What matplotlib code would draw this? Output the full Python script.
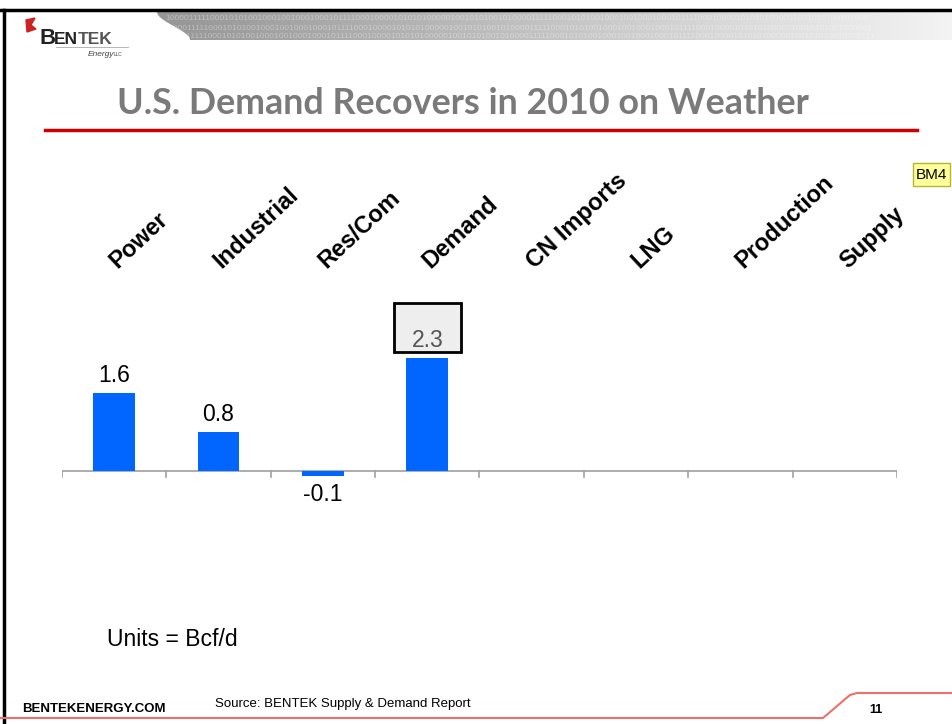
import numpy as np
import matplotlib.pyplot as plt
from matplotlib.patches import Polygon, Rectangle

# data
categories = ['Power', 'Industrial', 'Res/Com', 'Demand', 'CN Imports', 'LNG', 'Production', 'Supply']
values = [1.6, 0.8, -0.1, 2.3, None, None, None, None]
value_labels = ['1.6', '0.8', '-0.1', '2.3', '', '', '', '']

W, H = 953, 724
fig = plt.figure(figsize=(W / 100, H / 100), dpi=100)
plt.rcParams['font.family'] = ['Liberation Sans', 'DejaVu Sans']

# slide background layer in pixel coords
bg = fig.add_axes([0, 0, 1, 1])
bg.set_xlim(0, W)
bg.set_ylim(H, 0)
bg.axis('off')

# header band: gradient, curved left edge
grad = np.linspace(0.58, 0.95, 256)[None, :]
img = bg.imshow(np.repeat(grad, 2, axis=0), cmap='gray', vmin=0, vmax=1,
                extent=(150, W, 40, 12), aspect='auto', zorder=1)
t = np.linspace(0, 1, 20)
edge = [(157 + 33 * (3 * s**2 - 2 * s**3), 12 + 28 * s) for s in t]
clip = Polygon(edge + [(W, 40), (W, 12)], closed=True, transform=bg.transData)
img.set_clip_path(clip)
bits = '1000011111000101010010001001000100010111100010000101010100000100101010010'
for i, yy in enumerate([19, 28, 37]):
    row = ((bits[i:] + bits) * 3)[:150]
    txt = bg.text(165 + 4 * i, yy, row, fontsize=6, color='white',
                  alpha=0.35, va='center', ha='left', zorder=2)
    txt.set_clip_path(clip)

# frame lines
bg.plot([0, W], [10, 10], color='black', lw=2.5, zorder=3)
bg.plot([4, 4], [10, H], color='black', lw=2.5, zorder=3)

# logo
bg.add_patch(Polygon([(26, 20), (35, 18), (31, 25), (36, 29), (27, 32)], closed=True,
                     color='#cc2222', zorder=3))
bg.text(40, 44, 'B', fontsize=16, fontweight='bold', color='#222222', va='baseline', zorder=3)
bg.text(54, 44, 'EN', fontsize=12.5, fontweight='bold', color='#222222', va='baseline', zorder=3)
bg.text(78, 44, 'TEK', fontsize=12.5, fontweight='bold', color='#555555', va='baseline', zorder=3)
bg.plot([56, 128], [47, 47], color='#aaaaaa', lw=0.6, zorder=3)
bg.text(88, 56, 'Energy', fontsize=6, style='italic', color='#444444', va='baseline', zorder=3)
bg.text(114, 56, 'LLC', fontsize=3.5, color='#444444', va='baseline', zorder=3)

# title and red rule
bg.text(117, 114, 'U.S. Demand Recovers in 2010 on Weather', fontsize=25.8, fontweight='bold',
        family=['Lato', 'DejaVu Sans'], color='#7a7a7a', va='baseline', ha='left', zorder=3)
bg.plot([45, 917], [130, 130], color='#cc0000', lw=2.5, zorder=3)

# BM4 comment marker
bg.add_patch(Rectangle((913, 163), 37, 23, facecolor='#ffff99', edgecolor='#b5b535', lw=1, zorder=3))
bg.text(931.5, 175, 'BM4', fontsize=11, ha='center', va='center', color='black', zorder=4)

# units note and footer
bg.text(107, 639, 'Units = Bcf/d', fontsize=16.5, va='center', ha='left')
bg.text(22, 709, 'BENTEKENERGY.COM', fontsize=9.5, fontweight='bold', va='center', ha='left')
bg.text(215, 704, 'Source: BENTEK Supply & Demand Report', fontsize=9.5, va='center', ha='left')
bg.text(876, 710, '11', fontsize=9, fontweight='bold', va='center', ha='center')
bg.plot([0, 823, 850, 857, W], [718, 718, 695, 693, 693], color='#ee7068', lw=1.5, zorder=3)

# chart
ax = fig.add_axes([62 / W, (H - 520) / H, 835 / W, 294 / H])
ax.set_xlim(0, len(categories))
ax.set_ylim(-1, 5)
ax.axis('off')
ax.patch.set_alpha(0)

xs = np.arange(len(categories)) + 0.5
for x, v, lab in zip(xs, values, value_labels):
    if v is None:
        continue
    ax.bar(x, v, width=0.4, color='#0066ff', zorder=2)
    if lab == '2.3':
        continue
    off = 0.11 if v >= 0 else -0.15
    ax.text(x, v + off, lab, fontsize=16.5, ha='center',
            va='bottom' if v >= 0 else 'top', color='black')

# boxed demand total
i_dem = categories.index('Demand')
v_dem = values[i_dem]
ax.add_patch(Rectangle((xs[i_dem] - 0.32, v_dem + 0.12), 0.64, 1.0, facecolor='#eeeeee',
                       edgecolor='black', lw=2, zorder=3, clip_on=False))
ax.text(xs[i_dem], v_dem + 0.13, value_labels[i_dem], fontsize=16.5, ha='center', va='bottom',
        color='#555555', zorder=4)

# baseline axis with ticks at category boundaries
ax.plot([0, len(categories)], [0, 0], color='#a0a0a0', lw=1.2, zorder=1)
for b in range(len(categories) + 1):
    ax.plot([b, b], [0, -0.13], color='#a0a0a0', lw=1.2, zorder=1)

# rotated category labels
for x, c in zip(xs, categories):
    ax.text(x + 0.03, 4.12, c, rotation=43, rotation_mode='anchor', ha='left', va='baseline',
            fontsize=17, fontweight='bold', clip_on=False)

fig.savefig('out.png', dpi=100)
